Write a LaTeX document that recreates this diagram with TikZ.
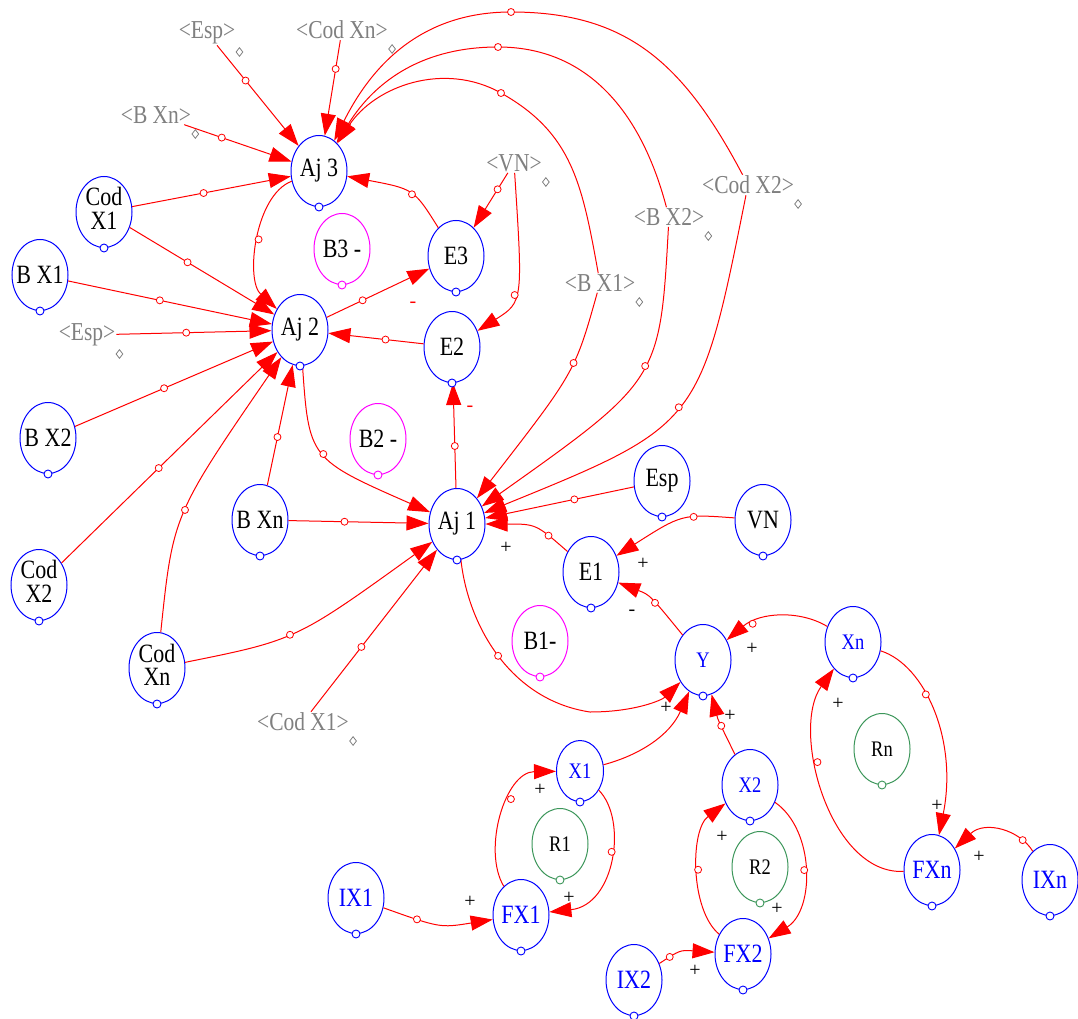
\documentclass[tikz,border=0pt]{standalone}
\usepackage{fontspec}
\setmainfont{Liberation Serif}
\usepackage{graphicx}
\usetikzlibrary{shapes.geometric,arrows.meta,calc}
\definecolor{vblue}{RGB}{0,0,255}
\definecolor{lred}{RGB}{255,0,0}
\definecolor{shgray}{RGB}{128,128,128}
\definecolor{loopmag}{RGB}{255,0,255}
\definecolor{loopgreen}{RGB}{60,150,90}
% labels are set slightly taller than wide, and never widen their ellipse
\newcommand{\vtxt}[1]{\makebox[0pt]{\scalebox{1}[1.2]{#1}}}
\newcommand{\vtwo}[2]{\makebox[0pt]{\scalebox{1}[1.2]{\renewcommand\arraystretch{0.9}\begin{tabular}{@{}c@{}}#1\\#2\end{tabular}}}}
\newcommand{\stxt}[1]{\scalebox{1}[1.2]{#1}}

\begin{document}
\begin{tikzpicture}[x=1pt,y=-1pt,
  var/.style={ellipse,draw=vblue,line width=1pt,minimum width=56pt,minimum height=71pt,inner sep=0pt,font=\fontsize{22}{20}\selectfont},
  lvl/.style={var,text=vblue},
  smallvar/.style={minimum width=47pt,minimum height=61pt},
  sml/.style={font=\fontsize{18.5}{18}\selectfont},
  bloop/.style={var,draw=loopmag},
  rloop/.style={var,draw=loopgreen,sml},
  shvar/.style={text=shgray,inner sep=1pt,font=\fontsize{21.5}{21}\selectfont},
  link/.style={draw=lred,line width=1pt,-{Triangle[length=22pt,width=15pt]}},
  handle/.style={circle,draw=lred,fill=white,line width=0.8pt,minimum size=7pt,inner sep=0pt},
  bump/.style={circle,fill=white,line width=0.9pt,minimum size=8pt,inner sep=0pt},
  gdiam/.style={diamond,draw=shgray,line width=0.8pt,minimum width=7pt,minimum height=9pt,inner sep=0pt},
  pol/.style={inner sep=0pt,font=\fontsize{20}{20}\selectfont},
]
\useasboundingbox (0,0) rectangle (1078,1019);

% ---- auxiliary and level variables
\node[var] (Aj3) at (319,171) {\vtxt{Aj 3}};
\node[var] (Aj2) at (300,330) {\vtxt{Aj 2}};
\node[var] (Aj1) at (457,524) {\vtxt{Aj 1}};
\node[var] (E3) at (456,256) {\vtxt{E3}};
\node[var] (E2) at (452,347) {\vtxt{E2}};
\node[var] (E1) at (591,572) {\vtxt{E1}};
\node[var] (CodX1) at (104,212) {\vtwo{Cod}{X1}};
\node[var] (BX1) at (40,275) {\vtxt{B X1}};
\node[var] (BX2) at (48,438) {\vtxt{B X2}};
\node[var] (CodX2) at (39,585) {\vtwo{Cod}{X2}};
\node[var] (BXn) at (260,520) {\vtxt{B Xn}};
\node[var] (CodXn) at (157,668) {\vtwo{Cod}{Xn}};
\node[var] (Esp) at (662,481) {\vtxt{Esp}};
\node[var] (VN) at (763,520) {\vtxt{VN}};
\node[lvl,sml] (Y) at (703,660) {\vtxt{Y}};
\node[lvl,sml] (Xn) at (853,642) {\vtxt{Xn}};
\node[lvl,sml,smallvar] (X1) at (580,771) {\vtxt{X1}};
\node[lvl,sml] (X2) at (750,785) {\vtxt{X2}};
\node[lvl] (FX1) at (521,915) {\vtxt{FX1}};
\node[lvl] (FX2) at (743,954) {\vtxt{FX2}};
\node[lvl] (FXn) at (932,870) {\vtxt{FXn}};
\node[lvl] (IX1) at (356,898) {\vtxt{IX1}};
\node[lvl] (IX2) at (634,980) {\vtxt{IX2}};
\node[lvl] (IXn) at (1050,880) {\vtxt{IXn}};

% ---- loop markers
\node[bloop] (B3) at (342,249) {\vtxt{B3 -}};
\node[bloop] (B2) at (378,439) {\vtxt{B2 -}};
\node[bloop] (B1) at (540,641) {\vtxt{B1-}};
\node[rloop] (R1) at (560,844) {\vtxt{R1}};
\node[rloop] (R2) at (760,867) {\vtxt{R2}};
\node[rloop] (Rn) at (882,749) {\vtxt{Rn}};

% ---- shadow variables
\node[shvar] (sEspA) at (207,33) {\stxt{<Esp>}};
\node[shvar] (sCodXn) at (342,30) {\stxt{<Cod Xn>}};
\node[shvar] (sBXn) at (156,115) {\stxt{<B Xn>}};
\node[shvar] (sEspB) at (87,335) {\stxt{<Esp>}};
\node[shvar] (sVN) at (514,163) {\stxt{<VN>}};
\node[shvar] (sBX2) at (669,217) {\stxt{<B X2>}};
\node[shvar] (sCodX2) at (748,185) {\stxt{<Cod X2>}};
\node[shvar] (sBX1) at (600,283) {\stxt{<B X1>}};
\node[shvar] (sCodX1) at (303,722) {\stxt{<Cod X1>}};

% ---- links into Aj 3
\draw[link] (sEspA) -- (Aj3) node[handle,pos=0.35]{};
\draw[link] (sCodXn) -- (Aj3) node[handle,pos=0.3]{};
\draw[link] (sBXn) -- (Aj3) node[handle,pos=0.35]{};
\draw[link] (CodX1) -- (Aj3) node[handle,pos=0.45]{};
\draw[link] (E3) .. controls (414,189) .. (Aj3) node[handle,pos=0.45]{};
\draw[link] (sBX1) .. controls (582,183) and (572,133) .. (501,93) node[handle]{}
  .. controls (444,61) and (375,86) .. (Aj3);
\draw[link] (sBX2) .. controls (641,111) and (587,47) .. (498,47) node[handle]{}
  .. controls (426,47) and (377,78) .. (Aj3);
\draw[link] (sCodX2) .. controls (683,62) and (626,12) .. (511,12) node[handle]{}
  .. controls (425,12) and (374,61) .. (Aj3);

% ---- links into Aj 2
\draw[link] (CodX1) -- (Aj2) node[handle,pos=0.4]{};
\draw[link] (BX1) -- (Aj2) node[handle,pos=0.45]{};
\draw[link] (sEspB) -- (Aj2) node[handle,pos=0.45]{};
\draw[link] (BX2) -- (Aj2) node[handle,pos=0.45]{};
\draw[link] (CodX2) -- (Aj2) node[handle,pos=0.45]{};
\draw[link] (CodXn) .. controls (173,515) .. (Aj2) node[handle,pos=0.5]{};
\draw[link] (BXn) -- (Aj2) node[handle,pos=0.4]{};
\draw[link] (Aj3) .. controls (255,195) and (245,280) .. (Aj2) node[handle,pos=0.5]{};
\draw[link] (E2) -- (Aj2) node[handle,pos=0.4]{};

% ---- E3, E2
\draw[link] (Aj2) -- (E3) node[handle,pos=0.35]{};
\draw[link] (sVN) -- (E3) node[handle,pos=0.3]{};
\draw[link] (sVN) .. controls (523,302) .. (E2) node[handle,pos=0.55]{};
\draw[link] (Aj1) -- (E2) node[handle,pos=0.4]{};

% ---- links into Aj 1
\draw[link] (Aj2) .. controls (309,459) .. (Aj1) node[handle,pos=0.5]{};
\draw[link] (BXn) -- (Aj1) node[handle,pos=0.4]{};
\draw[link] (CodXn) .. controls (296,640) .. (Aj1) node[handle,pos=0.45]{};
\draw[link] (sCodX1) -- (Aj1) node[handle,pos=0.4]{};
\draw[link] (sBX1) .. controls (575,372) .. (Aj1) node[handle,pos=0.4]{};
\draw[link] (sBX2) .. controls (660,380) .. (Aj1) node[handle,pos=0.45]{};
\draw[link] (sCodX2) .. controls (700,425) .. (Aj1) node[handle,pos=0.5]{};
\draw[link] (Esp) -- (Aj1) node[handle,pos=0.4]{};
\draw[link] (E1) .. controls (536,524) .. (Aj1) node[handle,pos=0.25]{};

% ---- E1 and Y
\draw[link] (VN) .. controls (682,514) .. (E1) node[handle,pos=0.35]{};
\draw[link] (Y) .. controls (650,595) .. (E1) node[handle,pos=0.4]{};
\draw[link] (Aj1) .. controls (468,625) and (510,700) .. (590,712) node[handle,pos=0.5]{}
  .. controls (635,712) and (662,700) .. (Y);
\draw[link] (X1) .. controls (640,755) and (670,735) .. (Y);
\draw[link] (X2) .. controls (718,720) .. (Y) node[handle,pos=0.4]{};
\draw[link] (Xn) .. controls (800,610) and (760,612) .. (Y) node[handle,pos=0.75]{};

% ---- reinforcing loops
\draw[link] (X1) .. controls (628,820) and (615,905) .. (FX1) node[handle,pos=0.45]{};
\draw[link] (FX1) .. controls (482,850) and (505,772) .. (X1) node[handle,pos=0.62]{};
\draw[link] (IX1) .. controls (440,928) .. (FX1) node[handle,pos=0.25]{};
\draw[link] (X2) .. controls (815,830) and (815,910) .. (FX2) node[handle,pos=0.5]{};
\draw[link] (FX2) .. controls (690,910) and (690,830) .. (X2) node[handle,pos=0.5]{};
\draw[link] (IX2) .. controls (680,950) .. (FX2) node[handle,pos=0.2]{};
\draw[link] (Xn) .. controls (925,665) and (958,740) .. (FXn) node[handle,pos=0.4]{};
\draw[link] (FXn) .. controls (830,875) and (790,730) .. (Xn) node[handle,pos=0.62]{};
\draw[link] (IXn) .. controls (1020,830) and (985,820) .. (FXn) node[handle,pos=0.2]{};

% ---- small marks under the variables
\foreach \n in {Aj1,Aj2,Aj3,E1,E2,E3,CodX1,BX1,BX2,CodX2,BXn,CodXn,Esp,VN,Y,Xn,X1,X2,FX1,FX2,FXn,IX1,IX2,IXn}
  \node[bump,draw=vblue] (\n-b) at (\n.south) {};
\foreach \n in {B1,B2,B3}
  \node[bump,draw=loopmag] (\n-b) at (\n.south) {};
\foreach \n in {R1,R2,Rn}
  \node[bump,draw=loopgreen] (\n-b) at (\n.south) {};
\foreach \s in {sEspA,sCodXn,sBXn,sEspB,sVN,sBX2,sCodX2,sBX1,sCodX1}
  \node[gdiam] (\s-d) at ($(\s.east)+(3,19)$) {};

% ---- link polarities
\node[pol] (p1) at (506,548) {+};
\node[pol] (p2) at (643,564) {+};
\node[pol] (p3) at (632,613) {-};
\node[pol,text=lred] (p4) at (470,409) {-};
\node[pol,text=lred] (p5) at (413,305) {-};
\node[pol] (p6) at (752,649) {+};
\node[pol] (p7) at (666,708) {+};
\node[pol] (p8) at (730,716) {+};
\node[pol] (p9) at (540,790) {+};
\node[pol] (p10) at (569,898) {+};
\node[pol] (p11) at (470,902) {+};
\node[pol] (p12) at (722,837) {+};
\node[pol] (p13) at (777,909) {+};
\node[pol] (p14) at (695,971) {+};
\node[pol] (p15) at (838,704) {+};
\node[pol] (p16) at (937,806) {+};
\node[pol] (p17) at (979,857) {+};
\end{tikzpicture}
\end{document}
